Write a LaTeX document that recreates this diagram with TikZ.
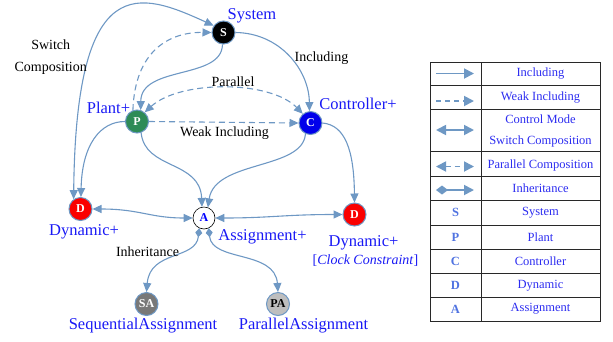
\documentclass[tikz,border=0pt]{standalone}
\usepackage{fontspec}
\setmainfont{Liberation Serif}
\usetikzlibrary{arrows.meta}
\definecolor{ec}{RGB}{110,152,196}
\definecolor{lblue}{RGB}{25,25,245}
\definecolor{tblue}{RGB}{45,45,240}
\definecolor{kblue}{RGB}{80,115,225}
\definecolor{pgreen}{RGB}{46,139,87}
\definecolor{cblue}{RGB}{0,0,235}
\definecolor{dred}{RGB}{250,0,0}
\definecolor{sagray}{RGB}{120,120,120}
\definecolor{pagray}{RGB}{190,190,190}
\definecolor{tline}{RGB}{40,40,40}
\tikzset{
  Tri/.tip={Triangle[length=9pt,width=8pt]},
  Dia/.tip={Diamond[length=9pt,width=7pt]},
  LTri/.tip={Triangle[length=10pt,width=10pt]},
  LDia/.tip={Diamond[length=12pt,width=9pt]},
  circ/.style={circle, minimum size=23pt, inner sep=0pt, draw=ec, line width=1pt,
    font=\fontsize{12}{12}\selectfont\bfseries, text=white},
  inc/.style={draw=ec, line width=1.1pt, -Tri},
  winc/.style={inc, dash pattern=on 6pt off 4pt},
  swc/.style={draw=ec, line width=1.1pt, Tri-Tri},
  parc/.style={swc, dash pattern=on 6pt off 4pt},
  inh/.style={draw=ec, line width=1.1pt, Dia-Tri},
  blab/.style={text=lblue, font=\fontsize{16.5}{18}\selectfont, inner sep=0pt},
  klab/.style={text=black, font=\fontsize{14}{16}\selectfont, inner sep=0pt},
  lgline/.style={draw=ec, line width=1.8pt},
  lgtext/.style={text=tblue, font=\fontsize{12.5}{15}\selectfont, inner sep=0pt},
  lgkey/.style={text=kblue, font=\fontsize{12.5}{15}\selectfont\bfseries, inner sep=0pt},
  tbl/.style={draw=tline, line width=0.9pt}
}
\begin{document}
\begin{tikzpicture}[x=1pt,y=1pt]
\useasboundingbox (0,0) rectangle (613,-341);

% nodes
\node[circ, fill=black] (S) at (223.5,-32.5) {S};
\node[circ, fill=pgreen] (P) at (137,-121.5) {P};
\node[circ, fill=cblue] (C) at (310.5,-123) {C};
\node[circ, fill=dred] (D1) at (80.5,-209) {D};
\node[circ, fill=white, draw=black, line width=0.6pt, text=blue, minimum size=22pt] (A) at (204,-218) {A};
\node[circ, fill=dred] (D2) at (354.5,-214.5) {D};
\node[circ, fill=sagray] (SA) at (146.5,-304) {SA};
\node[circ, fill=pagray, text=black] (PA) at (278,-304) {PA};

% connectors
\draw[swc] (D1.125) .. controls (76,32) and (140,8) .. (S.145);
\draw[inc] (S.265) .. controls (222,-80) and (141,-65) .. (P.72);
\draw[winc] (P.110) .. controls (135,-50) and (170,-32) .. (S.180);
\draw[inc] (S.0) .. controls (280,-33) and (309,-70) .. (C.95);
\draw[parc] (P.50) .. controls (180,-80) and (270,-80) .. (C.130);
\draw[winc] (P.east) -- (C.west);
\draw[inc] (P.180) .. controls (100,-121.5) and (82,-145) .. (D1.88);
\draw[inc] (P.-70) .. controls (145,-170) and (200,-160) .. (A.100);
\draw[inc] (C.-115) .. controls (303,-170) and (215,-160) .. (A.70);
\draw[inc] (C.0) .. controls (345,-125) and (354,-150) .. (D2.90);
\draw[swc] (D1.east) .. controls (140,-209) and (150,-218) .. (A.west);
\draw[swc] (A.east) .. controls (270,-218) and (285,-214.5) .. (D2.west);
\draw[inh] (A.-115) .. controls (196,-260) and (150,-250) .. (SA.north);
\draw[inh] (A.-65) .. controls (212,-262) and (275,-250) .. (PA.north);

% labels
\node[blab] (lS) at (252,-16) {System};
\node[blab] (lP) at (108.5,-108) {Plant+};
\node[blab] (lC) at (358,-104) {Controller+};
\node[blab] (lD1) at (84,-232) {Dynamic+};
\node[blab] (lA) at (262.5,-237) {Assignment+};
\node[blab] (lD2) at (363.5,-243) {Dynamic+};
\node[blab, font=\fontsize{14}{16}\selectfont] (lCC) at (365.5,-261) {[\textit{Clock Constraint}]};
\node[blab] (lSA) at (143,-326) {SequentialAssignment};
\node[blab] (lPA) at (303.5,-326) {ParallelAssignment};

\node[klab, align=center, font=\fontsize{14}{22}\selectfont] (lSw) at (50.7,-57) {Switch\\Composition};
\node[klab] (lInc) at (321.5,-58) {Including};
\node[klab] (lPar) at (233,-82) {Parallel};
\node[klab] (lWI) at (224.5,-133) {Weak Including};
\node[klab] (lInh) at (147.5,-252) {Inheritance};

% legend table
\draw[tbl] (430.5,-62) rectangle (600,-321);
\draw[tbl] (481,-62) -- (481,-321);
\foreach \yy in {85,109.3,151.7,176,200.7,225,249.3,273.3,297.3}
  \draw[tbl] (430.5,-\yy) -- (600,-\yy);

\draw[lgline, -LTri] (436,-73.5) -- (474,-73.5);
\draw[lgline, -LTri, dash pattern=on 5pt off 4pt] (436,-101) -- (474,-101);
\draw[lgline, LTri-LTri] (436,-130) -- (474,-130);
\draw[lgline, LTri-LTri, dash pattern=on 5pt off 4pt] (436,-166.5) -- (474,-166.5);
\draw[lgline, LDia-LTri] (436,-190) -- (474,-190);

\node[lgtext] (t1) at (540.5,-73.5) {Including};
\node[lgtext] (t2) at (540.5,-97.5) {Weak Including};
\node[lgtext, align=center, font=\fontsize{12.5}{20.5}\selectfont] (t3) at (540.5,-131) {Control Mode\\Switch Composition};
\node[lgtext] (t4) at (540.5,-165) {Parallel Composition};
\node[lgtext] (t5) at (540.5,-188) {Inheritance};

\node[lgkey] (k6) at (455.5,-212.8) {S};
\node[lgkey] (k7) at (455.5,-237.2) {P};
\node[lgkey] (k8) at (455.5,-261.3) {C};
\node[lgkey] (k9) at (455.5,-285.3) {D};
\node[lgkey] (k10) at (455.5,-309.2) {A};
\node[lgtext] (t6) at (540.5,-212.8) {System};
\node[lgtext] (t7) at (540.5,-237.2) {Plant};
\node[lgtext] (t8) at (540.5,-261.3) {Controller};
\node[lgtext] (t9) at (540.5,-285.3) {Dynamic};
\node[lgtext] (t10) at (540.5,-309.2) {Assignment};
\end{tikzpicture}
\end{document}
